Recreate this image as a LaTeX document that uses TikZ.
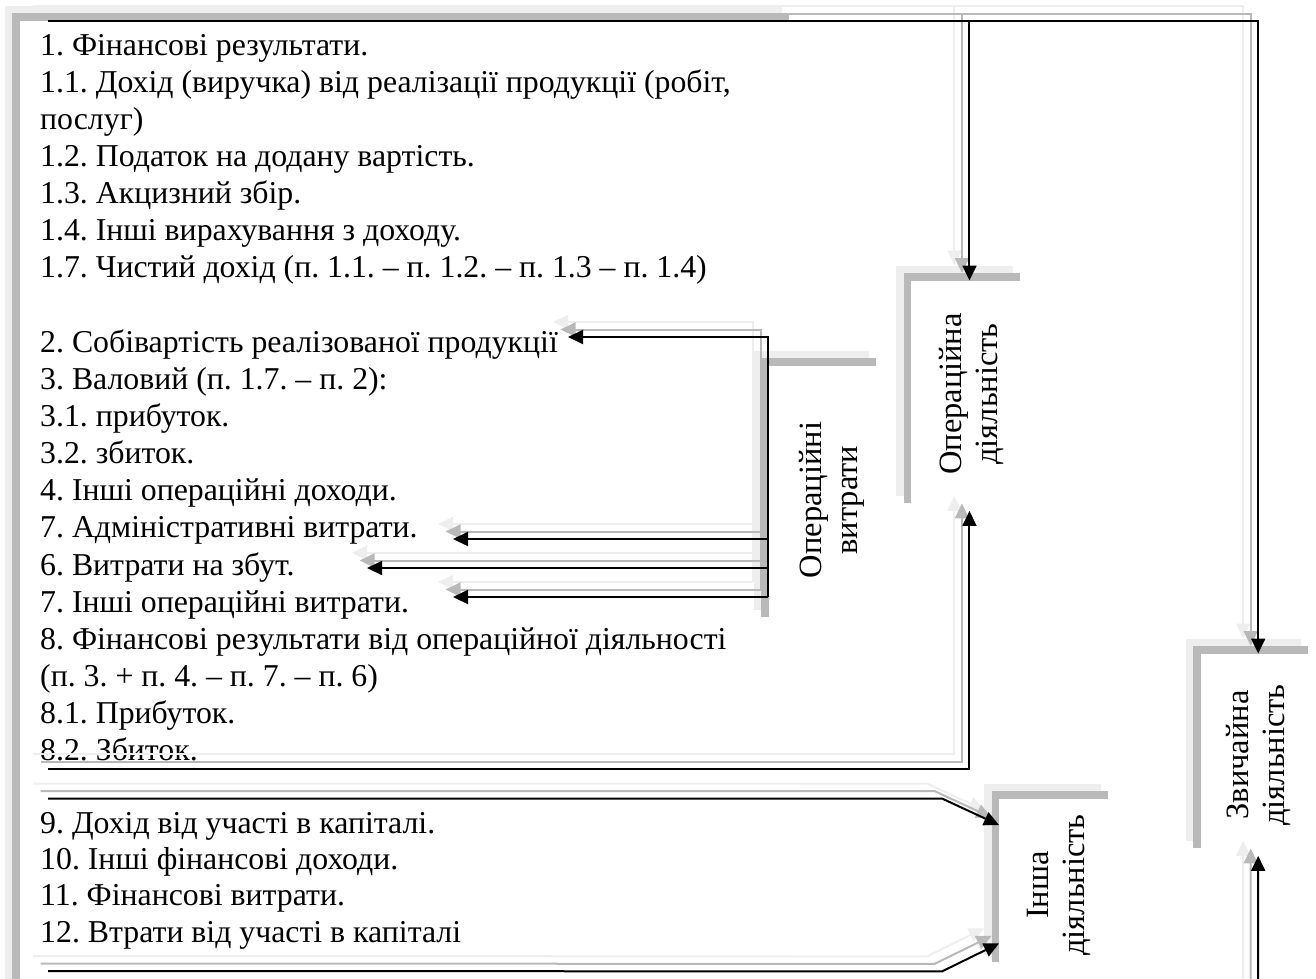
\documentclass[tikz,border=0pt]{standalone}
\usepackage{fontspec}
\setmainfont{Liberation Serif}
\usetikzlibrary{arrows.meta, calc, shadows}
\frenchspacing

\definecolor{shmid}{RGB}{185,185,185}
\definecolor{shlight}{RGB}{238,238,238}

\tikzset{
  line/.style={anchor=base west, inner sep=0pt, font=\fontsize{31.8}{37}\selectfont},
  panel/.style={anchor=north west, fill=white, inner sep=0pt,
    drop shadow={shadow xshift=-15pt, shadow yshift=15pt, fill=shlight, opacity=1},
    drop shadow={shadow xshift=-7.5pt, shadow yshift=7.5pt, fill=shmid, opacity=1}},
  tag/.style={rotate=90, align=center, inner sep=0pt, font=\fontsize{32.5}{36}\selectfont},
  link/.style={line width=2pt, -{Triangle[length=15pt,width=14pt]}},
}

\begin{document}
\begin{tikzpicture}[x=1pt,y=-1pt]
\useasboundingbox (0,0) rectangle (1316,978);

% left text field
\node[panel, minimum width=777pt, minimum height=1000pt] (mainbox) at (19.5,20.5) {};

\foreach \k/\txt in {0/{1. Фінансові результати.},
    1/{1.1. Дохід (виручка) від реалізації продукції (робіт,},
    2/{послуг)},
    3/{1.2. Податок на додану вартість.},
    4/{1.3. Акцизний збір.},
    5/{1.4. Інші вирахування з доходу.},
    6/{1.7. Чистий дохід (п. 1.1. – п. 1.2. – п. 1.3 – п. 1.4)},
    8/{2. Собівартість реалізованої продукції},
    9/{3. Валовий (п. 1.7. – п. 2):},
    10/{3.1. прибуток.},
    11/{3.2. збиток.},
    12/{4. Інші операційні доходи.},
    13/{7. Адміністративні витрати.},
    14/{6. Витрати на збут.},
    15/{7. Інші операційні витрати.},
    16/{8. Фінансові результати від операційної діяльності},
    17/{(п. 3. + п. 4. – п. 7. – п. 6)},
    18/{8.1. Прибуток.},
    19/{8.2. Збиток.}}
  \node[line] (t\k) at (40,{55+37.15*\k}) {\txt};

\foreach \k/\txt in {0/{9. Дохід від участі в капіталі.},
    1/{10. Інші фінансові доходи.},
    2/{11. Фінансові витрати.},
    3/{12. Втрати від участі в капіталі}}
  \node[line] (f\k) at (40,{833+36.4*\k}) {\txt};

% side panels
\node[panel, minimum width=115pt, minimum height=259pt] (opvitbox) at (768.5,365.5) {};
\node[panel, minimum width=116.5pt, minimum height=230pt] (opdiybox) at (911,280.5) {};
\node[panel, minimum width=116.5pt, minimum height=171pt] (inshbox) at (999,798.5) {};
\node[panel, minimum width=115pt, minimum height=202pt] (zvbox) at (1200.5,653.5) {};

\node[tag] (opvit) at (832,500) {Операційні\\витрати};
\node[tag] (opdiy) at (972,394) {Операційна\\діяльність};
\node[tag] (insh) at (1059,885) {Інша\\діяльність};
\node[tag] (zv) at (1258,755) {Звичайна\\діяльність};

% free ends of the connectors
\coordinate (topstart) at (48,21);
\coordinate (midstart) at (48,769);
\coordinate (othstart) at (48,798.5);
\coordinate (botstart) at (48,971);
\coordinate (zvin) at (1258,995);
\coordinate (vtop) at (768,337);
\coordinate (v13) at (768,539);
\coordinate (v14) at (768,568);
\coordinate (vbot) at (768,597);

% connectors, each with two grey copies behind it
\foreach \d/\c in {15/shlight, 7.5/shmid, 0/black}{
\begin{scope}[transform canvas={shift={(-\d pt,\d pt)}}, color=\c]
  \draw[link] (topstart) -| (zvbox.north);
  \draw[link] (topstart) -| (opdiybox.north);
  \draw[link] (midstart) -| (opdiybox.south);
  \draw[link] (othstart) -- ([xshift=-57pt]inshbox.north west)
    -- ([yshift=-26.5pt]inshbox.north west);
  \draw[link] (botstart) -- ([xshift=-57pt,yshift=-1.5pt]inshbox.south west)
    -- ([yshift=26.5pt]inshbox.south west);
  \draw[link] (zvin) -- (zvbox.south);
  \draw[link] (vbot) -- (vtop) -- ($(vtop -| t8.west)+(528,0)$);
  \draw[link] (v13) -- ($(v13 -| t13.west)+(413,0)$);
  \draw[link] (v14) -- ($(v14 -| t14.west)+(327,0)$);
  \draw[link] (vbot) -- ($(vbot -| t15.west)+(413,0)$);
\end{scope}
}

\end{tikzpicture}
\end{document}
